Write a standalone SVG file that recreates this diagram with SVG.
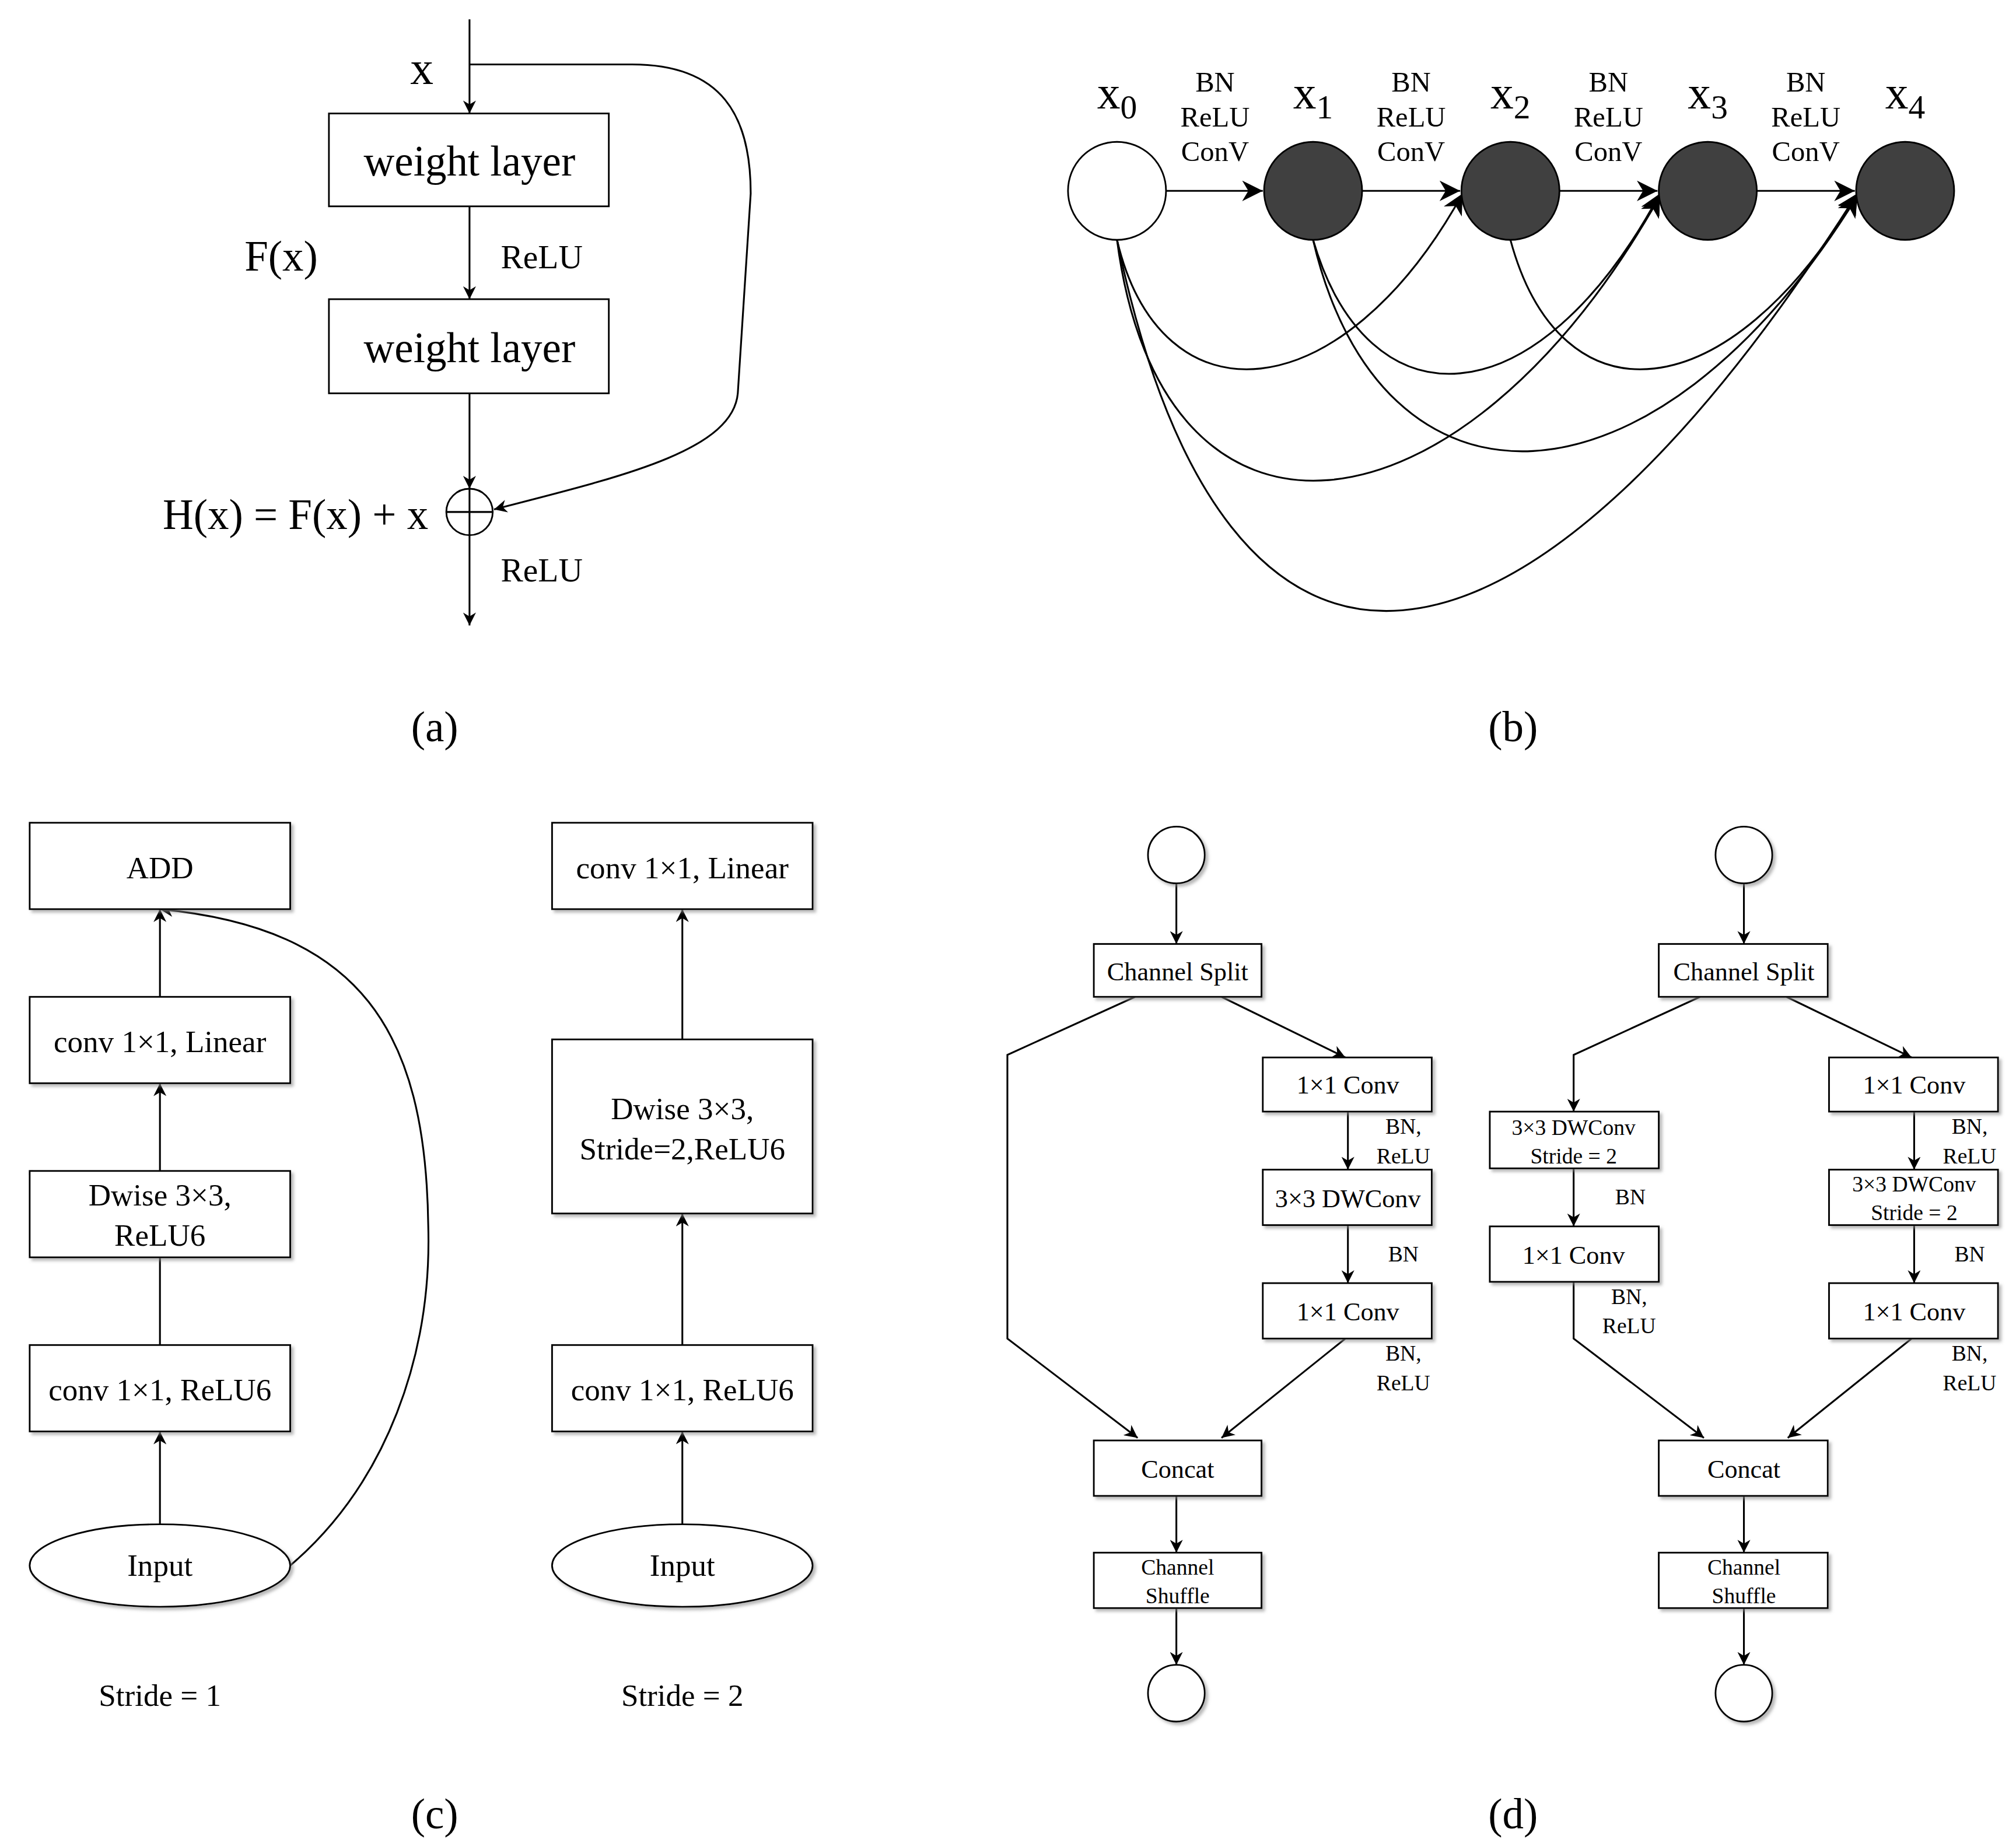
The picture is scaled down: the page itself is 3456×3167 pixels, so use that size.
<svg xmlns="http://www.w3.org/2000/svg" width="3456" height="3167" viewBox="0 0 3456 3167">
<defs>
<marker id="ar" viewBox="0 0 10 10" refX="10" refY="5" markerWidth="10" markerHeight="10" markerUnits="userSpaceOnUse" orient="auto"><path d="M0,0 L10,5 L0,10 L3,5 z" fill="#000"/></marker>
<marker id="arb" viewBox="0 0 10 10" refX="10" refY="5" markerWidth="16" markerHeight="16" markerUnits="userSpaceOnUse" orient="auto"><path d="M0,0 L10,5 L0,10 L3,5 z" fill="#000"/></marker>
<filter id="sh" x="-10%" y="-10%" width="130%" height="140%"><feDropShadow dx="2" dy="2" stdDeviation="1.2" flood-color="#888" flood-opacity="0.6"/></filter>
</defs>
<style>
text{font-family:"Liberation Serif",serif;fill:#000;text-anchor:middle}
.b{fill:#fff;stroke:#000;stroke-width:1.3}
.s{filter:url(#sh)}
.l{fill:none;stroke:#000;stroke-width:1.4}
.a{fill:none;stroke:#000;stroke-width:1.4;marker-end:url(#ar)}
.ab{fill:none;stroke:#000;stroke-width:1.4;marker-end:url(#arb)}
.t32{font-size:33px}.t26{font-size:26px}.t22{font-size:22px}.t24{font-size:24px}.t20{font-size:20px}.t17{font-size:17px}
</style>
<rect width="3456" height="3167" fill="#fff"/>
<g transform="scale(2.2112)">
<g id="connectors">
<path class="a" d="M364,15 V88"/><path class="a" d="M364,160 V232"/><path class="a" d="M364,305 V379"/><path class="a" d="M364,415 V485"/>
<path class="a" d="M364,50 H490 C560,50 582,90 582,150 L572,305 C568,350 480,370 383,395"/>
<path class="ab" d="M904,148 H979"/><path class="ab" d="M1056,148 H1132"/><path class="ab" d="M1209,148 H1285"/><path class="ab" d="M1362,148 H1438"/>
<path class="ab" d="M866,186 C900,330 1040,320 1134,150"/>
<path class="ab" d="M866,186 C900,450 1130,430 1287,152"/>
<path class="ab" d="M866,186 C950,590 1180,560 1440,150"/>
<path class="ab" d="M1018,186 C1060,330 1190,330 1287,150"/>
<path class="ab" d="M1018,186 C1070,410 1280,410 1440,152"/>
<path class="ab" d="M1171,186 C1210,330 1340,320 1440,150"/>
<path class="a" d="M124,1182 V1110"/><path class="l" d="M124,1043 V975"/><path class="a" d="M124,908 V840"/><path class="a" d="M124,773 V705"/>
<path class="a" d="M225,1214 C300,1150 335,1050 332,950 C330,800 280,720 124,705"/>
<path class="a" d="M529,1182 V1110"/><path class="a" d="M529,1043 V941"/><path class="a" d="M529,806 V705"/>
<path class="a" d="M912,685 V732"/><path class="a" d="M880,773 L781,818 V1038 L882,1115"/><path class="a" d="M947,773 L1043,820"/>
<path class="a" d="M1045,862 V907"/><path class="a" d="M1045,950 V995"/><path class="a" d="M1043,1038 L947,1115"/>
<path class="a" d="M912,1160 V1204"/><path class="a" d="M912,1247 V1291"/>
<path class="a" d="M1352,685 V732"/><path class="a" d="M1318,773 L1220,818 V862"/><path class="a" d="M1220,906 V951"/><path class="a" d="M1220,994 V1038 L1321,1115"/>
<path class="a" d="M1385,773 L1482,820"/><path class="a" d="M1484,862 V907"/><path class="a" d="M1484,950 V995"/><path class="a" d="M1482,1038 L1386,1115"/>
<path class="a" d="M1352,1160 V1204"/><path class="a" d="M1352,1247 V1291"/>
</g>
<g id="a">
<rect class="b" x="255" y="88" width="217" height="72"/><text class="t32" x="364" y="136">weight layer</text>
<rect class="b" x="255" y="232" width="217" height="73"/><text class="t32" x="364" y="281">weight layer</text>
<text class="t32" x="327" y="65" style="font-size:36px">x</text>
<text class="t26" x="420" y="208">ReLU</text><text class="t32" x="218" y="210">F(x)</text>
<circle class="b" cx="364" cy="397" r="18"/><path class="l" d="M346,397 H382 M364,379 V415"/>
<text class="t32" x="332" y="410" style="text-anchor:end">H(x) = F(x) + x</text>
<text class="t26" x="420" y="451">ReLU</text>
<text class="t32" x="337" y="575">(a)</text>
</g>
<g id="b">
<circle class="b" cx="866" cy="148" r="38"/>
<circle cx="1018" cy="148" r="38" fill="#404040" stroke="#000" stroke-width="1.3"/>
<circle cx="1171" cy="148" r="38" fill="#404040" stroke="#000" stroke-width="1.3"/>
<circle cx="1324" cy="148" r="38" fill="#404040" stroke="#000" stroke-width="1.3"/>
<circle cx="1477" cy="148" r="38" fill="#404040" stroke="#000" stroke-width="1.3"/>
<text x="866" y="84" style="font-size:36px">x<tspan font-size="26" dy="8">0</tspan></text>
<text x="1018" y="84" style="font-size:36px">x<tspan font-size="26" dy="8">1</tspan></text>
<text x="1171" y="84" style="font-size:36px">x<tspan font-size="26" dy="8">2</tspan></text>
<text x="1324" y="84" style="font-size:36px">x<tspan font-size="26" dy="8">3</tspan></text>
<text x="1477" y="84" style="font-size:36px">x<tspan font-size="26" dy="8">4</tspan></text>
<text class="t22" x="942" y="71">BN</text><text class="t22" x="942" y="98">ReLU</text><text class="t22" x="942" y="125">ConV</text>
<text class="t22" x="1094" y="71">BN</text><text class="t22" x="1094" y="98">ReLU</text><text class="t22" x="1094" y="125">ConV</text>
<text class="t22" x="1247" y="71">BN</text><text class="t22" x="1247" y="98">ReLU</text><text class="t22" x="1247" y="125">ConV</text>
<text class="t22" x="1400" y="71">BN</text><text class="t22" x="1400" y="98">ReLU</text><text class="t22" x="1400" y="125">ConV</text>
<text class="t32" x="1173" y="575">(b)</text>
</g>
<g id="c">
<rect class="b s" x="23" y="638" width="202" height="67"/><text class="t24" x="124" y="681">ADD</text>
<rect class="b s" x="23" y="773" width="202" height="67"/><text class="t24" x="124" y="816">conv 1×1, Linear</text>
<rect class="b s" x="23" y="908" width="202" height="67"/><text class="t24" x="124" y="935">Dwise 3×3,</text><text class="t24" x="124" y="966">ReLU6</text>
<rect class="b s" x="23" y="1043" width="202" height="67"/><text class="t24" x="124" y="1086">conv 1×1, ReLU6</text>
<ellipse class="b s" cx="124" cy="1214" rx="101" ry="32"/><text class="t24" x="124" y="1222">Input</text>
<rect class="b s" x="428" y="638" width="202" height="67"/><text class="t24" x="529" y="681">conv 1×1, Linear</text>
<rect class="b s" x="428" y="806" width="202" height="135"/><text class="t24" x="529" y="868">Dwise 3×3,</text><text class="t24" x="529" y="899">Stride=2,ReLU6</text>
<rect class="b s" x="428" y="1043" width="202" height="67"/><text class="t24" x="529" y="1086">conv 1×1, ReLU6</text>
<ellipse class="b s" cx="529" cy="1214" rx="101" ry="32"/><text class="t24" x="529" y="1222">Input</text>
<text class="t24" x="124" y="1323">Stride = 1</text><text class="t24" x="529" y="1323">Stride = 2</text>
<text class="t32" x="337" y="1418">(c)</text>
</g>
<g id="d">
<circle class="b s" cx="912" cy="663" r="22"/>
<rect class="b s" x="848" y="732" width="130" height="41"/><text class="t20" x="913" y="760">Channel Split</text>
<rect class="b s" x="979" y="820" width="131" height="42"/><text class="t20" x="1045" y="848">1×1 Conv</text>
<rect class="b s" x="979" y="907" width="131" height="43"/><text class="t20" x="1045" y="936">3×3 DWConv</text>
<rect class="b s" x="979" y="995" width="131" height="43"/><text class="t20" x="1045" y="1024">1×1 Conv</text>
<rect class="b s" x="848" y="1117" width="130" height="43"/><text class="t20" x="913" y="1146">Concat</text>
<rect class="b s" x="848" y="1204" width="130" height="43"/><text class="t17" x="913" y="1221">Channel</text><text class="t17" x="913" y="1243">Shuffle</text>
<circle class="b s" cx="912" cy="1313" r="22"/>
<text class="t17" x="1088" y="879">BN,</text><text class="t17" x="1088" y="902">ReLU</text>
<text class="t17" x="1088" y="978">BN</text>
<text class="t17" x="1088" y="1055">BN,</text><text class="t17" x="1088" y="1078">ReLU</text>
<circle class="b s" cx="1352" cy="663" r="22"/>
<rect class="b s" x="1286" y="732" width="131" height="41"/><text class="t20" x="1352" y="760">Channel Split</text>
<rect class="b s" x="1155" y="862" width="131" height="44"/><text class="t17" x="1220" y="880">3×3 DWConv</text><text class="t17" x="1220" y="902">Stride = 2</text>
<rect class="b s" x="1155" y="951" width="131" height="43"/><text class="t20" x="1220" y="980">1×1 Conv</text>
<text class="t17" x="1264" y="934">BN</text>
<text class="t17" x="1263" y="1011">BN,</text><text class="t17" x="1263" y="1034">ReLU</text>
<rect class="b s" x="1418" y="820" width="131" height="42"/><text class="t20" x="1484" y="848">1×1 Conv</text>
<rect class="b s" x="1418" y="907" width="131" height="43"/><text class="t17" x="1484" y="924">3×3 DWConv</text><text class="t17" x="1484" y="946">Stride = 2</text>
<rect class="b s" x="1418" y="995" width="131" height="43"/><text class="t20" x="1484" y="1024">1×1 Conv</text>
<text class="t17" x="1527" y="879">BN,</text><text class="t17" x="1527" y="902">ReLU</text>
<text class="t17" x="1527" y="978">BN</text>
<text class="t17" x="1527" y="1055">BN,</text><text class="t17" x="1527" y="1078">ReLU</text>
<rect class="b s" x="1286" y="1117" width="131" height="43"/><text class="t20" x="1352" y="1146">Concat</text>
<rect class="b s" x="1286" y="1204" width="131" height="43"/><text class="t17" x="1352" y="1221">Channel</text><text class="t17" x="1352" y="1243">Shuffle</text>
<circle class="b s" cx="1352" cy="1313" r="22"/>
<text class="t32" x="1173" y="1418">(d)</text>
</g>
</g>
</svg>
